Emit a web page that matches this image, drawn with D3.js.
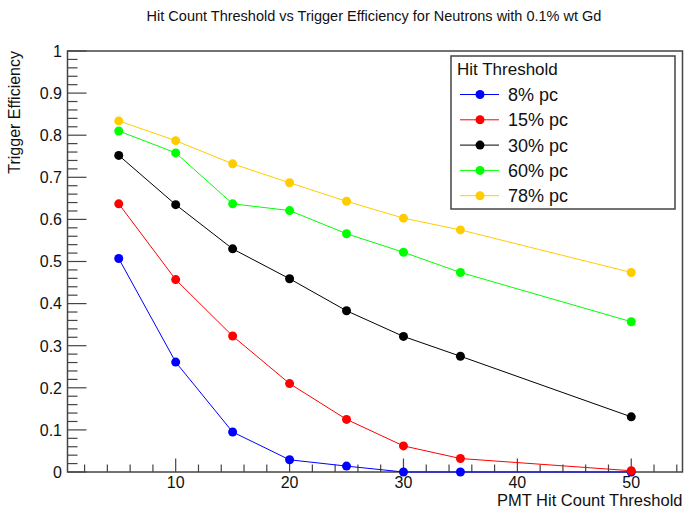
<!DOCTYPE html>
<html>
<head>
<meta charset="utf-8">
<script src="https://cdn.jsdelivr.net/npm/d3@7"></script>
<style>
  body { margin: 0; background: #fff; }
  svg { display: block; font-family: "Liberation Sans", Arial, Helvetica, sans-serif; }
</style>
</head>
<body>
<svg id="chart"></svg>
<script>
// PMT hit count thresholds (x) and trigger efficiency per photocoverage (y)
var thresholds = [5, 10, 15, 20, 25, 30, 35, 50]
var pc8  = [0.507, 0.261, 0.095, 0.029, 0.014, 0.000, 0.000, 0.000]
var pc15 = [0.637, 0.457, 0.323, 0.210, 0.125, 0.062, 0.032, 0.003]
var pc30 = [0.752, 0.635, 0.530, 0.459, 0.383, 0.322, 0.275, 0.131]
var pc60 = [0.810, 0.758, 0.637, 0.621, 0.566, 0.522, 0.474, 0.357]
var pc78 = [0.834, 0.787, 0.732, 0.687, 0.643, 0.603, 0.575, 0.474]

var seriesNames  = ["8% pc", "15% pc", "30% pc", "60% pc", "78% pc"]
var seriesColors = ["#0000ff", "#ff0000", "#000000", "#00ff00", "#ffcc00"]
var series = [pc8, pc15, pc30, pc60, pc78]

var xTicks = [10, 20, 30, 40, 50]
var yTicks = [0, 0.1, 0.2, 0.3, 0.4, 0.5, 0.6, 0.7, 0.8, 0.9, 1]
var yTickLabels = ["0", "0.1", "0.2", "0.3", "0.4", "0.5", "0.6", "0.7", "0.8", "0.9", "1"]

var width = 686, height = 510
var frame = { left: 67.5, right: 682.5, top: 51, bottom: 472 }
var axisColor = "#444"

var svg = d3.select("#chart").attr("width", width).attr("height", height)
svg.append("rect").attr("width", width).attr("height", height).attr("fill", "#fff")

var x = d3.scaleLinear().domain([0.5, 54.5]).range([frame.left, frame.right])
var y = d3.scaleLinear().domain([0, 1]).range([frame.bottom, frame.top])

// title
svg.append("text")
  .attr("x", 374).attr("y", 21)
  .attr("text-anchor", "middle")
  .attr("font-size", 14.5)
  .attr("fill", "#111")
  .text("Hit Count Threshold vs Trigger Efficiency for Neutrons with 0.1% wt Gd")

// minor ticks (every 2 on x, every 0.02 on y)
var xMinor = d3.range(2, 55, 2).filter(function (v) { return v % 10 != 0 })
var yMinor = d3.range(0, 50).map(function (i) { return i * 0.02 }).filter(function (v, i) { return i % 5 != 0 })

var ticks = svg.append("g").attr("stroke", axisColor).attr("stroke-width", 1.2)

ticks.selectAll(".xmaj").data(xTicks).enter().append("line")
  .attr("x1", function (d) { return x(d) }).attr("x2", function (d) { return x(d) })
  .attr("y1", frame.bottom).attr("y2", frame.bottom - 13.5)
ticks.selectAll(".xmin").data(xMinor).enter().append("line")
  .attr("x1", function (d) { return x(d) }).attr("x2", function (d) { return x(d) })
  .attr("y1", frame.bottom).attr("y2", frame.bottom - 7.5)
ticks.selectAll(".ymaj").data(yTicks).enter().append("line")
  .attr("y1", function (d) { return y(d) }).attr("y2", function (d) { return y(d) })
  .attr("x1", frame.left).attr("x2", frame.left + 19)
ticks.selectAll(".ymin").data(yMinor).enter().append("line")
  .attr("y1", function (d) { return y(d) }).attr("y2", function (d) { return y(d) })
  .attr("x1", frame.left).attr("x2", frame.left + 10)

// frame
svg.append("rect")
  .attr("x", frame.left).attr("y", frame.top)
  .attr("width", frame.right - frame.left).attr("height", frame.bottom - frame.top)
  .attr("fill", "none").attr("stroke", axisColor).attr("stroke-width", 1.5)

// tick labels
svg.selectAll(".xlab").data(xTicks).enter().append("text")
  .attr("x", function (d) { return x(d) }).attr("y", 488)
  .attr("text-anchor", "middle").attr("font-size", 16).attr("fill", "#111")
  .text(function (d) { return d })
svg.selectAll(".ylab").data(yTicks).enter().append("text")
  .attr("x", 62).attr("y", function (d) { return y(d) + 5.8 })
  .attr("text-anchor", "end").attr("font-size", 16).attr("fill", "#111")
  .text(function (d, i) { return yTickLabels[i] })

// axis titles
svg.append("text")
  .attr("x", frame.right).attr("y", 506)
  .attr("text-anchor", "end").attr("font-size", 16.5).attr("fill", "#111")
  .text("PMT Hit Count Threshold")
svg.append("text")
  .attr("transform", "translate(20," + frame.top + ") rotate(-90)")
  .attr("text-anchor", "end").attr("font-size", 16).attr("fill", "#111")
  .text("Trigger Efficiency")

// graphs
var line = d3.line()
  .x(function (d, i) { return x(thresholds[i]) })
  .y(function (d) { return y(d) })

series.forEach(function (vals, s) {
  var g = svg.append("g")
  g.append("path")
    .attr("d", line(vals))
    .attr("fill", "none")
    .attr("stroke", seriesColors[s])
    .attr("stroke-width", 1)
  g.selectAll("circle").data(vals).enter().append("circle")
    .attr("cx", function (d, i) { return x(thresholds[i]) })
    .attr("cy", function (d) { return y(d) })
    .attr("r", 4.5)
    .attr("fill", seriesColors[s])
})

// legend
var legend = svg.append("g")
legend.append("rect")
  .attr("x", 451).attr("y", 56).attr("width", 224).attr("height", 153)
  .attr("fill", "#fff").attr("stroke", axisColor).attr("stroke-width", 1.5)
legend.append("text")
  .attr("x", 457).attr("y", 75)
  .attr("font-size", 17).attr("fill", "#111")
  .text("Hit Threshold")

var rows = legend.selectAll(".entry").data(seriesNames).enter().append("g")
  .attr("transform", function (d, i) { return "translate(0," + (94.5 + i * 25.3) + ")" })
rows.append("line")
  .attr("x1", 460).attr("x2", 499).attr("y1", 0).attr("y2", 0)
  .attr("stroke", function (d, i) { return seriesColors[i] }).attr("stroke-width", 1)
rows.append("circle")
  .attr("cx", 480).attr("cy", 0).attr("r", 4.5)
  .attr("fill", function (d, i) { return seriesColors[i] })
rows.append("text")
  .attr("x", 508).attr("y", 6.5)
  .attr("font-size", 18).attr("fill", "#111")
  .text(function (d) { return d })
</script>
</body>
</html>
